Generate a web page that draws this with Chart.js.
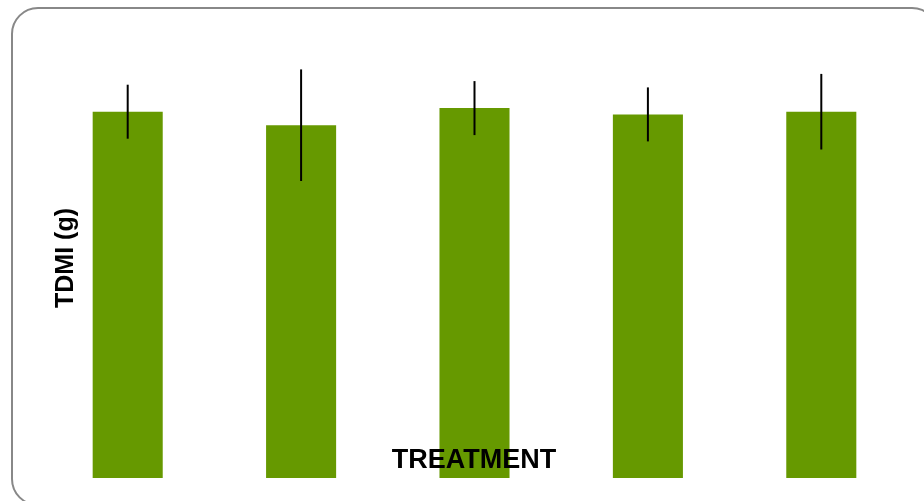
<!DOCTYPE html>
<html>
<head>
<meta charset="utf-8">
<script src="https://cdn.jsdelivr.net/npm/chart.js@4/dist/chart.umd.min.js"></script>
<style>
  html, body { margin: 0; padding: 0; background: #fff; overflow: hidden; }
  #marco {
    position: absolute; left: 11px; top: 7px;
    width: 924px; height: 495px;
    border: 2px solid #888888; border-radius: 27px;
  }
  #lienzo { position: absolute; left: 0; top: 0; }
</style>
</head>
<body>
<div id="marco"></div>
<canvas id="lienzo" width="924" height="501"></canvas>
<script>
// Datos
const tratamientos = ['T1', 'T2', 'T3', 'T4', 'T5'];
const tdmi = [40.7, 39.2, 41.1, 40.4, 40.7];
const errores = [3.0, 6.2, 3.0, 3.0, 4.2];
const tituloX = 'TREATMENT';
const tituloY = 'TDMI (g)';

// Barras de error y títulos de ejes
const pluginExtras = {
    id: 'extras',
    afterDatasetsDraw(chart) {
        const ctx = chart.ctx;
        const x = chart.scales.x;
        const y = chart.scales.y;
        ctx.save();
        ctx.strokeStyle = '#000';
        ctx.lineWidth = 2;
        tdmi.forEach((v, i) => {
            const px = x.getPixelForValue(i);
            ctx.beginPath();
            ctx.moveTo(px, y.getPixelForValue(v + errores[i]));
            ctx.lineTo(px, y.getPixelForValue(v - errores[i]));
            ctx.stroke();
        });

        ctx.fillStyle = '#000';
        ctx.font = 'bold 27px "Liberation Sans", Arial, sans-serif';
        ctx.textAlign = 'center';
        ctx.textBaseline = 'alphabetic';
        ctx.fillText(tituloX, 474, 468);

        ctx.translate(73, 258);
        ctx.rotate(-Math.PI / 2);
        ctx.font = 'bold 25px "Liberation Sans", Arial, sans-serif';
        ctx.fillText(tituloY, 0, 0);
        ctx.restore();
    }
};

new Chart(document.getElementById('lienzo').getContext('2d'), {
    type: 'bar',
    data: {
        labels: tratamientos,
        datasets: [{
            label: tituloY,
            data: tdmi,
            backgroundColor: '#669900',
            borderWidth: 0,
            barPercentage: 0.404,
            categoryPercentage: 1
        }]
    },
    options: {
        responsive: false,
        animation: false,
        layout: { padding: { left: 41, right: 16, top: 28, bottom: 23 } },
        plugins: { legend: { display: false }, tooltip: { enabled: false } },
        scales: {
            x: { display: false },
            y: { display: false, min: 0, max: 50 }
        }
    },
    plugins: [pluginExtras]
});
</script>
</body>
</html>
